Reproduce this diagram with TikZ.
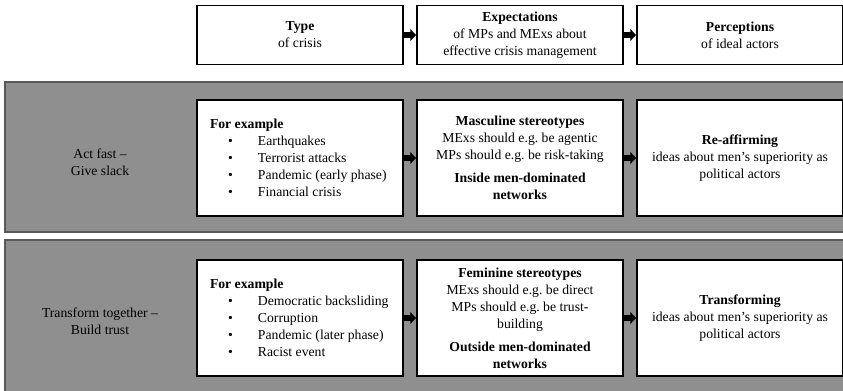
\documentclass[tikz,border=0pt]{standalone}
\usepackage{fontspec}
\setmainfont{Liberation Serif}
\usepackage{tikz}
\usetikzlibrary{shapes, arrows.meta, positioning}
\tikzstyle{every node}=[font=\fontsize{11.7}{14.5}\selectfont]
\tikzstyle{box}=[draw, line width=1.5pt, fill=white, minimum width=6.18cm, align=center]
\tikzstyle{topbox}=[box, minimum height=1.77cm]
\tikzstyle{bandbox}=[box, minimum height=3.48cm]
\tikzstyle{listbox}=[bandbox, text width=5.4cm, align=flush left]
\tikzstyle{band}=[draw=black!65, line width=1.5pt, fill=black!44, minimum width=25.35cm]
\tikzstyle{fat}=[line width=4.5pt, -{Triangle[length=5pt, width=10pt]}]
\newcommand{\exitem}[1]{\mbox{\hspace*{0.54cm}\makebox[0.9cm][l]{\textbullet}#1}}

\begin{document}
\begin{tikzpicture}[node distance=6.6cm]
  \useasboundingbox (0,0) rectangle (25.29,-11.73);
  \node[band, minimum height=4.5cm] (G1) at (12.825,-4.71) {};
  \node[band, minimum height=4.68cm] (G2) at (12.825,-9.54) {};
  \node[topbox] (T) at (9,-1.05) {\textbf{Type}\\of crisis};
  \node[topbox, right of=T] (E) {\textbf{Expectations}\\of MPs and MExs about\\effective crisis management};
  \node[topbox, right of=E] (P) {\textbf{Perceptions}\\of ideal actors};
  \node[listbox, below of=T, node distance=3.69cm] (X1) {\textbf{For example}\\\exitem{Earthquakes}\\\exitem{Terrorist attacks}\\\exitem{Pandemic (early phase)}\\\exitem{Financial crisis}};
  \node[bandbox, right of=X1] (S1) {\textbf{Masculine stereotypes}\\MExs should e.g.\ be agentic\\MPs should e.g.\ be risk-taking\\[5pt]\textbf{Inside men-dominated}\\\textbf{networks}};
  \node[bandbox, right of=S1] (R1) {\textbf{Re-affirming}\\ideas about men’s superiority as\\political actors};
  \node[listbox, below of=X1, node distance=4.8cm] (X2) {\textbf{For example}\\\exitem{Democratic backsliding}\\\exitem{Corruption}\\\exitem{Pandemic (later phase)}\\\exitem{Racist event}};
  \node[bandbox, right of=X2] (S2) {\textbf{Feminine stereotypes}\\MExs should e.g.\ be direct\\MPs should e.g.\ be trust-\\building\\[5pt]\textbf{Outside men-dominated}\\\textbf{networks}};
  \node[bandbox, right of=S2] (R2) {\textbf{Transforming}\\ideas about men’s superiority as\\political actors};
  \node[align=center] (L1) at (3,-4.86) {Act fast --\\Give slack};
  \node[align=center] (L2) at (3,-9.63) {Transform together --\\Build trust};
  \draw[fat] (T) -- (E);
  \draw[fat] (E) -- (P);
  \draw[fat] (X1) -- (S1);
  \draw[fat] (S1) -- (R1);
  \draw[fat] (X2) -- (S2);
  \draw[fat] (S2) -- (R2);
\end{tikzpicture}
\end{document}
